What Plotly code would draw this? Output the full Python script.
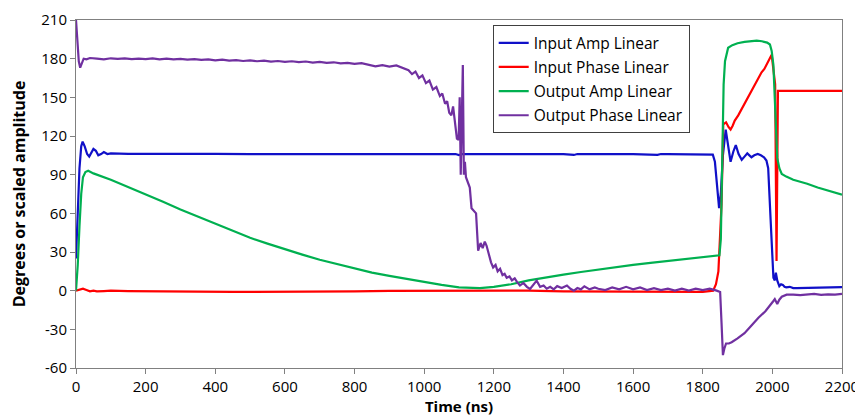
import plotly.graph_objects as go

# ---------------- data ----------------
t_in_amp = [0, 5, 10, 15, 19, 25, 32, 38, 44, 50, 57, 64, 72, 80, 90, 100, 150, 200, 300, 400, 500,
            600, 700, 800, 900, 1000, 1090, 1100, 1110, 1200, 1300, 1400, 1430, 1440, 1500, 1600,
            1670, 1680, 1700, 1800, 1820, 1829, 1835, 1841, 1847, 1852, 1858, 1866, 1873, 1880, 1888,
            1895, 1903, 1912, 1920, 1928, 1934, 1940, 1948, 1958, 1967, 1976, 1983, 1988, 1995, 2003,
            2007, 2010, 2014, 2017, 2020, 2025, 2030, 2035, 2040, 2050, 2060, 2070, 2100, 2150, 2200]
input_amp = [25, 60, 95, 112, 115.6, 112, 106, 104, 107, 110, 108.5, 105, 106, 107.5, 106, 106.5, 106.2,
             106.3, 106.0, 106.2, 106.0, 106.1, 106.0, 106.2, 106.0, 106.1, 106.0, 105.2, 106.0, 106.0,
             106.1, 106.0, 105.3, 106.0, 106.0, 106.0, 105.4, 106.0, 105.9, 105.8, 105.8, 105.5, 100,
             82, 64, 75, 105, 125, 112, 100, 108, 113, 106, 101.5, 104, 106.5, 105, 103.5, 105, 106,
             105, 103.5, 101, 95, 55, 10, 8, 14, 8, 6, 3.5, 5, 4.5, 3, 2.5, 3, 2, 2, 2.2, 2.6, 2.8]

t_in_phase = [0, 10, 20, 30, 40, 50, 60, 80, 100, 150, 200, 300, 400, 450, 500, 600, 700, 800, 900,
              1000, 1100, 1200, 1300, 1400, 1500, 1600, 1700, 1800, 1830, 1838, 1845, 1850, 1854, 1859,
              1867, 1874, 1880, 1886, 1892, 1902, 1912, 1922, 1931, 1940, 1950, 1960, 1969, 1977, 1985,
              1992, 1998, 2008, 2012, 2016, 2200]
input_phase = [0, 1, 1.5, 0.5, -0.5, 0, -0.5, -0.3, 0, -0.3, -0.5, -0.6, -0.8, -1, -1, -1, -0.8, -0.5,
               -0.2, 0, 0, 0, 0, -0.5, -0.5, -0.8, -1, -1, 0, 5, 15, 41, 67, 129, 130.6, 127, 125, 128,
               132, 136, 141, 146, 150, 155, 160, 165, 169.4, 172, 176, 180, 183, 160, 23, 155, 155]

t_out_amp = [0, 5, 10, 15, 20, 27, 35, 50, 100, 150, 200, 250, 300, 350, 400, 450, 500, 550, 600, 650,
             700, 750, 800, 850, 900, 950, 1000, 1050, 1100, 1130, 1160, 1200, 1250, 1300, 1350, 1400,
             1450, 1500, 1550, 1600, 1650, 1700, 1750, 1800, 1830, 1848, 1852, 1856, 1860, 1864, 1868,
             1873, 1885, 1900, 1920, 1940, 1955, 1970, 1985, 1993, 1998, 2003, 2007, 2011, 2014, 2020,
             2027, 2040, 2060, 2080, 2100, 2130, 2160, 2200]
output_amp = [0, 20, 50, 75, 88, 92, 93, 91, 86, 80.5, 75, 69, 63, 57.5, 51.5, 46, 41, 36.5, 32, 28,
              24, 20.5, 17, 14, 11.5, 9, 6.5, 4.5, 2.5, 2, 2, 3, 5, 8, 10.5, 12.5, 14.5, 16.5, 18.5, 20,
              21.5, 23, 24.5, 26, 27, 27.5, 40, 100, 160, 178, 184, 188.5, 190.5, 192, 193, 193.5, 194,
              193.5, 192.5, 191, 186, 175, 150, 120, 103, 95, 90.5, 88.5, 86, 84.5, 83, 80, 77.5, 74.5]

t_out_phase = [0, 4, 8, 12, 16, 22, 30, 40, 60, 80, 100, 120, 140, 160, 180, 200, 220, 240, 260, 280,
               300, 320, 340, 360, 380, 400, 420, 440, 460, 480, 500, 520, 540, 560, 580, 600, 620, 640,
               660, 680, 700, 720, 740, 760, 780, 800, 820, 840, 860, 880, 900, 920, 940, 955, 965, 975,
               985, 995, 1005, 1015, 1025, 1035, 1045, 1052, 1060, 1066, 1072, 1078, 1083, 1088, 1094,
               1099, 1102, 1105, 1108, 1111, 1114, 1117, 1120, 1125, 1131, 1136, 1142, 1149, 1155, 1162,
               1168, 1174, 1179, 1186, 1192, 1198, 1205, 1211, 1218, 1225, 1231, 1237, 1245, 1252, 1260,
               1266, 1275, 1285, 1295, 1304, 1312, 1323, 1333, 1343, 1352, 1362, 1372, 1382, 1395, 1410,
               1420, 1430, 1440, 1450, 1460, 1475, 1490, 1500, 1520, 1540, 1560, 1580, 1600, 1620, 1640,
               1660, 1680, 1700, 1720, 1740, 1760, 1780, 1800, 1820, 1840, 1850, 1854, 1858, 1862, 1867,
               1875, 1883, 1900, 1920, 1940, 1960, 1980, 1998, 2003, 2007, 2014, 2020, 2027, 2041, 2060,
               2080, 2100, 2120, 2140, 2160, 2180, 2200]
output_phase = [210, 195, 178, 173, 176, 180, 179.5, 180.5, 180, 179.5, 180.3, 179.8, 180.2, 179.6, 180,
                179.7, 180.2, 179.5, 180, 179.4, 179.8, 179.2, 179.6, 179, 179.5, 178.7, 179.2, 178.5,
                178.9, 178.2, 178.6, 178, 178.4, 177.7, 178.2, 177.5, 178, 177.3, 177.8, 177, 177.5,
                176.8, 177.2, 176.3, 176.8, 175.9, 176.5, 175.2, 174, 175, 173.8, 174.8, 172.5, 171, 168,
                170, 165, 167, 161, 163, 156, 158, 151, 153, 145, 147, 138, 136, 143, 130, 118, 117, 150,
                90, 150, 175, 90, 100, 88, 84, 80, 64, 62, 60, 31, 37, 33, 38, 35, 27, 22, 18, 20, 15, 17,
                12, 13, 10, 11, 8, 9.5, 7, 4, 6, 3, 1.3, 4, 7.8, 3, 4, 1.5, 3, 1, 3.5, 2, 4, 1.5, 0, 2, 1,
                3.4, 1, 2.5, 1.5, 0.5, 2.5, 1, 3, 1, 2.5, 0.5, 2, 0.5, 1.5, 0, 1.5, 0, 1.5, 0.5, 1.5, 0,
                -1, -25, -50, -45, -41, -41, -40, -37, -33, -27, -21, -16, -10.3, -8, -6.5, -10.3, -7,
                -4.7, -3.1, -3, -3.5, -3, -2.5, -3.2, -2.8, -3, -2.5]

series_names = ["Input Amp Linear", "Input Phase Linear", "Output Amp Linear", "Output Phase Linear"]
series_colors = ["#1010C8", "#FF0000", "#00B050", "#7030A0"]

x_ticks = [0, 200, 400, 600, 800, 1000, 1200, 1400, 1600, 1800, 2000, 2200]
y_ticks = [-60, -30, 0, 30, 60, 90, 120, 150, 180, 210]

# ---------------- figure ----------------
FONT = "Open Sans"
fig = go.Figure()
data = [(t_in_amp, input_amp), (t_in_phase, input_phase), (t_out_amp, output_amp), (t_out_phase, output_phase)]
for i, ((tx, ty), name, col) in enumerate(zip(data, series_names, series_colors)):
    fig.add_trace(go.Scatter(x=tx, y=ty, mode="lines", name=name, legendgroup=f"g{i}",
                             line=dict(color=col, width=2.2)))

# the page body adds an 8px offset, so the figure is sized to fit within the window
fig.update_layout(
    width=855, height=410,
    margin=dict(l=68, r=21, t=12, b=50, autoexpand=False),
    paper_bgcolor="white", plot_bgcolor="white",
    font=dict(family=FONT, size=15, color="#000000"),
    showlegend=True,
    legend=dict(x=0.544, y=0.985, xanchor="left", yanchor="top",
                bordercolor="#404040", borderwidth=1, bgcolor="white",
                font=dict(family=FONT, size=15.5, color="#000000"),
                traceorder="grouped", tracegroupgap=1, itemwidth=30),
    xaxis=dict(range=[0, 2200], tickvals=x_ticks, ticktext=[str(v) for v in x_ticks],
               showgrid=False, zeroline=False, showline=True, linecolor="#808080", linewidth=1,
               mirror=True, ticks="outside", ticklen=5, tickcolor="#808080", automargin=False,
               tickfont=dict(family=FONT, size=15),
               title=dict(text="<b>Time (ns)</b>", font=dict(family=FONT, size=15), standoff=2)),
    yaxis=dict(range=[-60, 210], tickvals=y_ticks, ticktext=[str(v) for v in y_ticks],
               showgrid=False, zeroline=False, showline=True, linecolor="#808080", linewidth=1,
               mirror=True, ticks="outside", ticklen=5, tickcolor="#808080", automargin=False,
               tickfont=dict(family=FONT, size=15),
               title=dict(text="<b>Degrees or scaled amplitude</b>", font=dict(family=FONT, size=16),
                          standoff=12)),
)

fig.write_html("out.html")
